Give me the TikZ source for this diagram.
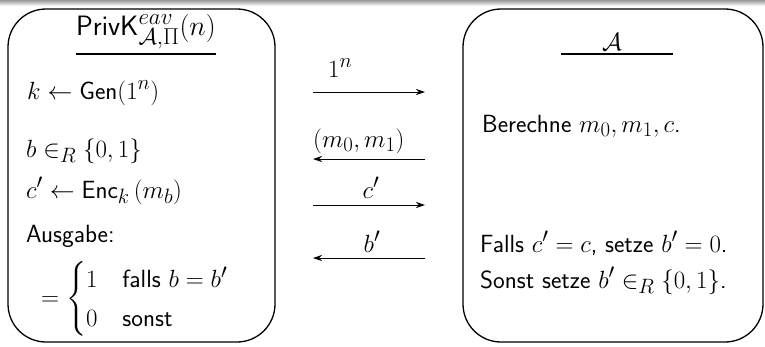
\RequirePackage{fix-cm}
\documentclass[tikz,border=0pt]{standalone}
\usepackage{amsmath}
\usetikzlibrary{arrows.meta}
\DeclareMathSizes{28}{28}{23}{17}
\tikzset{
  txt/.style={inner sep=0pt, font=\fontsize{24.88}{32.5}\selectfont\sffamily},
  ttl/.style={inner sep=0pt, font=\fontsize{28}{32}\selectfont\sffamily},
  frame/.style={line width=1.3pt, rounded corners=38pt},
  msg/.style={line width=0.8pt, -{Stealth[length=9pt,width=6pt]}},
  uline/.style={line width=2pt}
}
\begin{document}
\begin{tikzpicture}[x=1pt,y=-1pt]
\useasboundingbox (0,0) rectangle (765,346);
\shade[top color=black!40, bottom color=white] (0,0) rectangle (765,6);
% boxes
\draw[frame] (8,9) rectangle (275,342);
\draw[frame] (463,9) rectangle (763,342);
% left box content
\node[ttl, anchor=base] (title) at (146,35) {$\mathsf{PrivK}^{eav}_{\mathcal{A},\Pi}(n)$};
\draw[uline] (title.west |- 0,53.5) -- (title.east |- 0,53.5);
\node[txt, anchor=base west] (gen) at (27,99) {$k \leftarrow \mathsf{Gen}(1^n)$};
\node[txt, anchor=base west] (bsel) at (26,157) {$b \in_R \{0,1\}$};
\node[txt, anchor=base west] (enc) at (26,198) {$c' \leftarrow \mathsf{Enc}_k\left(m_b\right)$};
\node[txt, anchor=base west] (aus) at (26,242) {Ausgabe:};
\node[txt, anchor=west] (cases) at (41,299) {$=\begin{cases}1 & \text{falls } b=b'\\ 0 & \text{sonst}\end{cases}$};
% right box content
\node[txt, anchor=base] (adv) at (612,50) {$\mathcal{A}$};
\coordinate (ul1) at (561,54);
\coordinate (ul2) at (673,54);
\draw[uline] (ul1) -- (ul2);
\node[txt, anchor=base west] (ber) at (482,132) {Berechne $m_0,m_1,c$.};
\node[txt, anchor=base west] (falls) at (480,252) {Falls $c'=c$, setze $b'=0$.};
\node[txt, anchor=base west] (sonst) at (480,288) {Sonst setze $b' \in_R \{0,1\}$.};
% messages
\coordinate (a1l) at (313,92);  \coordinate (a1r) at (425,92);
\coordinate (a2l) at (313,159); \coordinate (a2r) at (425,159);
\coordinate (a3l) at (313,205); \coordinate (a3r) at (425,205);
\coordinate (a4l) at (313,258); \coordinate (a4r) at (425,258);
\draw[msg] (a1l) -- (a1r);
\draw[msg] (a2r) -- (a2l);
\draw[msg] (a3l) -- (a3r);
\draw[msg] (a4r) -- (a4l);
\node[txt, anchor=base west] (l1) at (328,77) {$1^n$};
\node[txt, anchor=base west] (l2) at (313,147) {$(m_0,m_1)$};
\node[txt, anchor=base] (l3) at (371,198) {$c'$};
\node[txt, anchor=base] (l4) at (372,252) {$b'$};
\end{tikzpicture}
\end{document}
